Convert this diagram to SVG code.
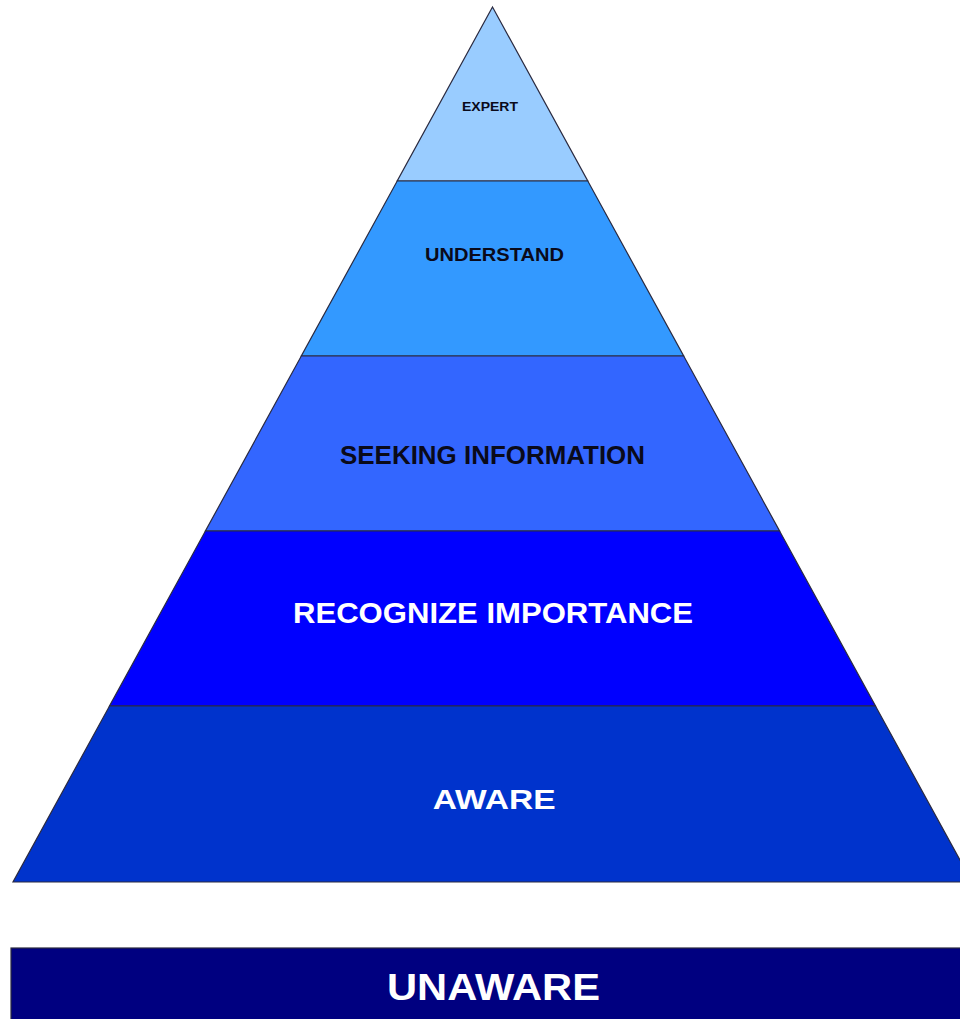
<svg xmlns="http://www.w3.org/2000/svg" width="960" height="1019" viewBox="0 0 960 1019">
<style>
.layer{stroke:#2a2a40;stroke-width:1.2;stroke-linejoin:miter}
.t{font-family:"Liberation Sans",Arial,sans-serif;font-weight:bold;text-anchor:middle}
.dark{fill:#0a0a1a}
.light{fill:#ffffff}
</style>
<rect width="960" height="1019" fill="#ffffff"/>
<g id="expert">
<polygon class="layer" fill="#99CCFF" points="492.5,7 587.8,181 397.2,181"/>
<text class="t dark" x="490" y="110.5" font-size="13" textLength="56" lengthAdjust="spacingAndGlyphs">EXPERT</text>
</g>
<g id="understand">
<polygon class="layer" fill="#3399FF" points="397.2,181 587.8,181 683.7,356 301.3,356"/>
<text class="t dark" x="494.5" y="261" font-size="18.5" textLength="139" lengthAdjust="spacingAndGlyphs">UNDERSTAND</text>
</g>
<g id="seeking-information">
<polygon class="layer" fill="#3366FF" points="301.3,356 683.7,356 779.6,531 205.4,531"/>
<text class="t dark" x="492.5" y="464" font-size="25" textLength="305" lengthAdjust="spacingAndGlyphs">SEEKING INFORMATION</text>
</g>
<g id="recognize-importance">
<polygon class="layer" fill="#0000FF" points="205.4,531 779.6,531 875.5,706 109.5,706"/>
<text class="t light" x="493" y="623" font-size="29.5" textLength="400" lengthAdjust="spacingAndGlyphs">RECOGNIZE IMPORTANCE</text>
</g>
<g id="aware">
<polygon class="layer" fill="#0033CC" points="109.5,706 875.5,706 972,882 13,882"/>
<text class="t light" x="494.2" y="809" font-size="28" textLength="123" lengthAdjust="spacingAndGlyphs">AWARE</text>
</g>
<g id="unaware">
<rect class="layer" fill="#000080" x="11" y="948" width="960" height="80"/>
<text class="t light" x="493.5" y="1000" font-size="37.5" textLength="213" lengthAdjust="spacingAndGlyphs">UNAWARE</text>
</g>
</svg>
